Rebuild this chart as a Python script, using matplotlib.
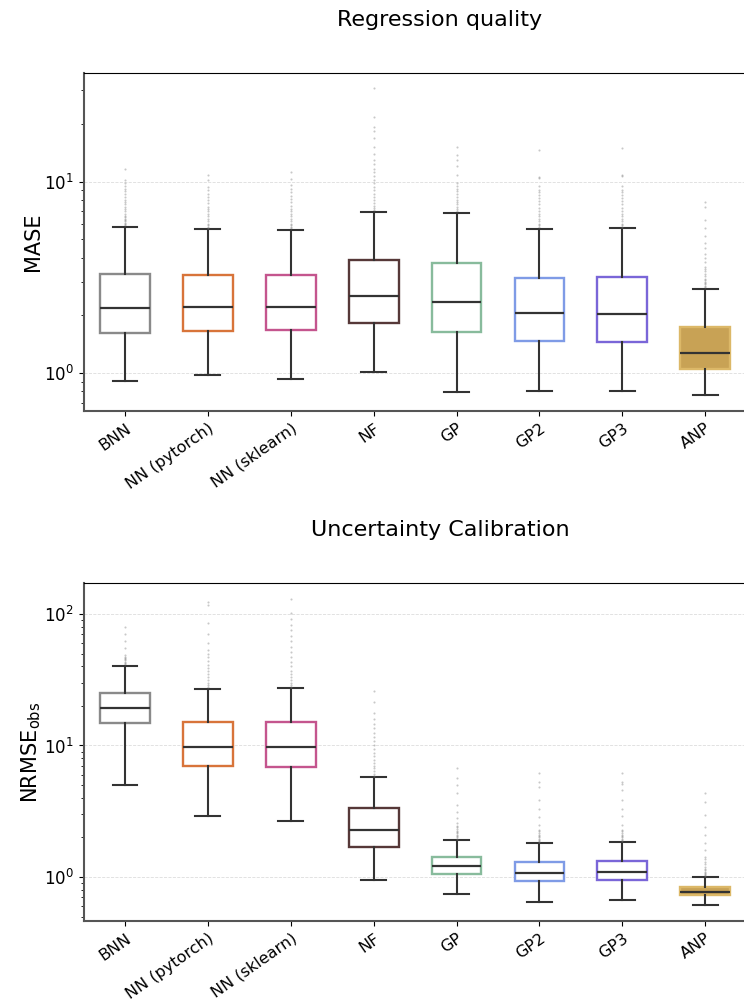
import matplotlib
matplotlib.use("Agg")
import matplotlib.pyplot as plt
import numpy as np

models = ["BNN", "NN (pytorch)", "NN (sklearn)", "NF", "GP", "GP2", "GP3", "ANP"]
edge_colors = ["#8a8a8a", "#d8743a", "#c4558e", "#563838", "#88bb9c", "#7f9be6", "#7a66d8", "#dcb868"]
face_colors = ["white"] * 7 + ["#c8a255"]

# Regression quality (MASE) -- box stats
mase_q1 = [1.61, 1.66, 1.67, 1.82, 1.63, 1.46, 1.45, 1.05]
mase_med = [2.19, 2.22, 2.22, 2.52, 2.36, 2.05, 2.04, 1.27]
mase_q3 = [3.30, 3.25, 3.24, 3.90, 3.75, 3.14, 3.17, 1.74]
mase_lo = [0.908, 0.98, 0.927, 1.01, 0.798, 0.80, 0.80, 0.764]
mase_hi = [5.81, 5.63, 5.58, 6.97, 6.86, 5.65, 5.72, 2.74]
mase_fliers = [
    [5.9, 6.0, 6.1, 6.2, 6.3, 6.4, 6.5, 6.6, 6.8, 7.0, 7.2, 7.4, 7.6, 7.8, 8.0, 8.3, 8.6, 8.9, 9.2, 9.5, 9.8, 10.2, 11.6],
    [5.7, 5.8, 5.9, 6.0, 6.2, 6.4, 6.6, 6.8, 7.0, 7.2, 7.4, 7.7, 8.0, 8.3, 8.6, 9.0, 9.4, 10.2, 10.9],
    [5.7, 5.8, 5.9, 6.0, 6.2, 6.4, 6.6, 6.8, 7.0, 7.2, 7.5, 7.8, 8.1, 8.4, 8.8, 9.2, 9.6, 10.3, 11.2],
    [7.1, 7.3, 7.5, 7.7, 8.0, 8.3, 8.6, 9.0, 9.4, 9.8, 10.2, 10.7, 11.2, 11.7, 12.3, 13.0, 14.0, 15.2, 17.0, 18.5, 19.4, 21.9, 31.0],
    [7.0, 7.2, 7.4, 7.6, 7.8, 8.0, 8.3, 8.6, 8.9, 9.2, 9.5, 9.9, 10.9, 12.1, 13.0, 13.8, 15.2],
    [5.8, 5.9, 6.0, 6.2, 6.4, 6.6, 6.8, 7.0, 7.3, 7.6, 7.9, 8.2, 8.5, 8.8, 9.1, 9.45, 10.4, 10.6, 14.7],
    [5.8, 5.9, 6.0, 6.2, 6.4, 6.6, 6.8, 7.0, 7.3, 7.6, 7.9, 8.2, 8.5, 8.8, 9.1, 9.45, 10.7, 10.9, 15.0],
    [2.8, 2.85, 2.9, 2.95, 3.0, 3.05, 3.1, 3.2, 3.3, 3.4, 3.5, 3.6, 3.8, 4.0, 4.2, 4.5, 4.8, 5.2, 5.7, 6.3, 7.4, 7.83],
]

# Uncertainty calibration (NRMSE_obs)
nrmse_q1 = [14.7, 7.03, 6.86, 1.68, 1.06, 0.932, 0.95, 0.726]
nrmse_med = [19.3, 9.8, 9.73, 2.28, 1.21, 1.07, 1.09, 0.773]
nrmse_q3 = [25.2, 15.1, 15.1, 3.33, 1.42, 1.30, 1.32, 0.84]
nrmse_lo = [5.01, 2.91, 2.68, 0.954, 0.738, 0.642, 0.665, 0.609]
nrmse_hi = [40.4, 27.0, 27.2, 5.76, 1.92, 1.80, 1.84, 1.0]
nrmse_fliers = [
    [41.5, 42.5, 43.5, 44.5, 45.5, 46.5, 47.5, 48.8, 55.0, 62.0, 70.0, 80.0],
    [28, 29, 30, 31.5, 33, 35, 37, 39, 41, 44, 47, 50, 53, 60, 70, 85, 117, 124],
    [28, 29, 30, 31.5, 33, 35, 37, 40, 43, 47, 51, 56, 62, 68, 75, 83, 92, 101, 129],
    [5.9, 6.1, 6.4, 6.7, 7.0, 7.4, 7.8, 8.3, 8.8, 9.4, 10.0, 10.8, 11.6, 12.5, 13.5, 14.6, 15.8, 17.6, 21.5, 26.1],
    [1.96, 2.0, 2.05, 2.1, 2.15, 2.2, 2.25, 2.3, 2.38, 2.46, 2.56, 2.8, 3.1, 3.53, 4.33, 5.0, 5.64, 6.7],
    [1.84, 1.88, 1.92, 1.96, 2.0, 2.05, 2.1, 2.16, 2.22, 2.28, 2.5, 2.87, 3.3, 3.85, 4.86, 5.3, 6.2],
    [1.88, 1.92, 1.96, 2.0, 2.05, 2.1, 2.16, 2.22, 2.28, 2.5, 2.9, 3.3, 3.85, 4.6, 5.1, 5.3, 6.2],
    [1.02, 1.04, 1.06, 1.08, 1.1, 1.13, 1.16, 1.2, 1.25, 1.3, 1.36, 1.43, 1.6, 1.8, 2.1, 2.41, 2.96, 3.7, 4.33],
]


def stats(q1, med, q3, lo, hi, fliers):
    return [dict(q1=a, med=b, q3=c, whislo=d, whishi=e, fliers=np.array(f), label=m)
            for a, b, c, d, e, f, m in zip(q1, med, q3, lo, hi, fliers, models)]


def draw(ax, st, ylim, ylabel):
    bp = ax.bxp(st, positions=range(len(models)), widths=0.6, patch_artist=True,
                whiskerprops=dict(color="#333333", lw=1.5),
                capprops=dict(color="#333333", lw=1.5),
                medianprops=dict(color="#333333", lw=1.6),
                flierprops=dict(marker="o", markersize=1.5, markerfacecolor="#777777",
                                markeredgecolor="none", alpha=0.4))
    for box, ec, fc in zip(bp["boxes"], edge_colors, face_colors):
        box.set_edgecolor(ec)
        box.set_facecolor(fc)
        box.set_linewidth(1.7)
    ax.set_yscale("log")
    ax.set_ylim(*ylim)
    ax.set_xlim(-0.5, 7.5)
    ax.grid(axis="y", which="major", ls="--", lw=0.6, color="#dddddd")
    ax.set_axisbelow(True)
    ax.set_xticks(range(len(models)))
    ax.set_xticklabels(models, rotation=35, ha="right", rotation_mode="anchor", fontsize=11.5)
    ax.tick_params(axis="y", labelsize=12)
    ax.set_ylabel(ylabel, fontsize=15, labelpad=1)
    for s in ["left", "bottom"]:
        ax.spines[s].set_color("#555555")
        ax.spines[s].set_linewidth(1.5)


fig = plt.figure(figsize=(7.44, 9.99), dpi=100)
ax1 = fig.add_axes([0.1124, 0.5886, 0.891, 0.3383])
ax2 = fig.add_axes([0.1124, 0.0781, 0.891, 0.3383])

draw(ax1, stats(mase_q1, mase_med, mase_q3, mase_lo, mase_hi, mase_fliers), (0.632, 37), "MASE")
draw(ax2, stats(nrmse_q1, nrmse_med, nrmse_q3, nrmse_lo, nrmse_hi, nrmse_fliers), (0.463, 172),
     r"NRMSE$_{\mathrm{obs}}$")

fig.text(440 / 744, 1 - 20 / 999, "Regression quality", ha="center", va="center", fontsize=16)
fig.text(440 / 744, 1 - 530 / 999, "Uncertainty Calibration", ha="center", va="center", fontsize=16)

fig.savefig("out.png", dpi=100)
